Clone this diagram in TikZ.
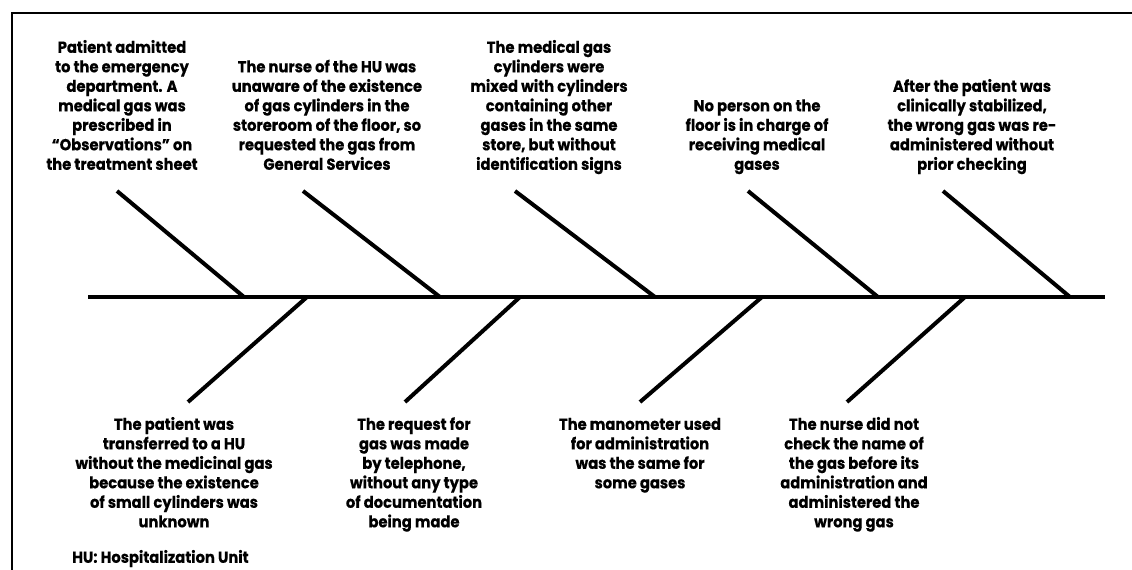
\documentclass[tikz,border=0pt]{standalone}
\usepackage{fontspec}
\setmainfont{Poppins}[FakeStretch=0.92,BoldFeatures={FakeBold=0.4}]
\begin{document}
\begin{tikzpicture}[x=1pt,y=-1pt,
  lbl/.style={font=\bfseries\fontsize{16}{19.5}\selectfont, align=center, inner sep=0pt, text depth=0pt, anchor=south},
  note/.style={font=\bfseries\fontsize{16}{19.5}\selectfont, inner sep=0pt, text depth=0pt, anchor=south west},
  bone/.style={line width=4pt},
  spine/.style={line width=4.5pt},
  frameline/.style={line width=2.5pt}]
\useasboundingbox (0,0) rectangle (1132,570);
% frame
\coordinate (fbl) at (12,575);
\coordinate (ftl) at (12,13);
\coordinate (ftr) at (1137,13);
\draw[frameline] (fbl) -- (ftl) -- (ftr);
% spine
\coordinate (tail) at (88,297);
\coordinate (head) at (1105,297);
\draw[spine] (tail) -- (head);
% upper causes
\node[lbl] (t1) at (122,170) {Patient admitted\\to the emergency\\department. A\\medical gas was\\prescribed in\\“Observations” on\\the treatment sheet};
\node[lbl] (t2) at (327,170) {The nurse of the HU was\\unaware of the existence\\of gas cylinders in the\\storeroom of the floor, so\\requested the gas from\\General Services};
\node[lbl] (t3) at (549,170) {The medical gas\\cylinders were\\mixed with cylinders\\containing other\\gases in the same\\store, but without\\identification signs};
\node[lbl] (t4) at (757,170) {No person on the\\floor is in charge of\\receiving medical\\gases};
\node[lbl] (t5) at (972,170) {After the patient was\\clinically stabilized,\\the wrong gas was re-\\administered without\\prior checking};
% lower causes
\node[lbl] (b1) at (174,527.5) {The patient was\\transferred to a HU\\without the medicinal gas\\because the existence\\of small cylinders was\\unknown};
\node[lbl] (b2) at (414,527.5) {The request for\\gas was made\\by telephone,\\without any type\\of documentation\\being made};
\node[lbl] (b3) at (640,488.5) {The manometer used\\for administration\\was the same for\\some gases};
\node[lbl] (b4) at (854,527.5) {The nurse did not\\check the name of\\the gas before its\\administration and\\administered the\\wrong gas};
\node[note] (hu) at (72,563) {HU: Hospitalization Unit};
% bone end points
\coordinate (u1a) at (117,191); \coordinate (u1b) at (244,297);
\coordinate (u2a) at (303,191); \coordinate (u2b) at (440,297);
\coordinate (u3a) at (515,191); \coordinate (u3b) at (655,297);
\coordinate (u4a) at (748,191); \coordinate (u4b) at (878,297);
\coordinate (u5a) at (943,191); \coordinate (u5b) at (1070,297);
\coordinate (l1a) at (307,297); \coordinate (l1b) at (188,402);
\coordinate (l2a) at (520,297); \coordinate (l2b) at (405,402);
\coordinate (l3a) at (762,297); \coordinate (l3b) at (640,402);
\coordinate (l4a) at (965,297); \coordinate (l4b) at (847,402);
\foreach \b in {u1,u2,u3,u4,u5,l1,l2,l3,l4}
  \draw[bone] (\b a) -- (\b b);
\end{tikzpicture}
\end{document}
